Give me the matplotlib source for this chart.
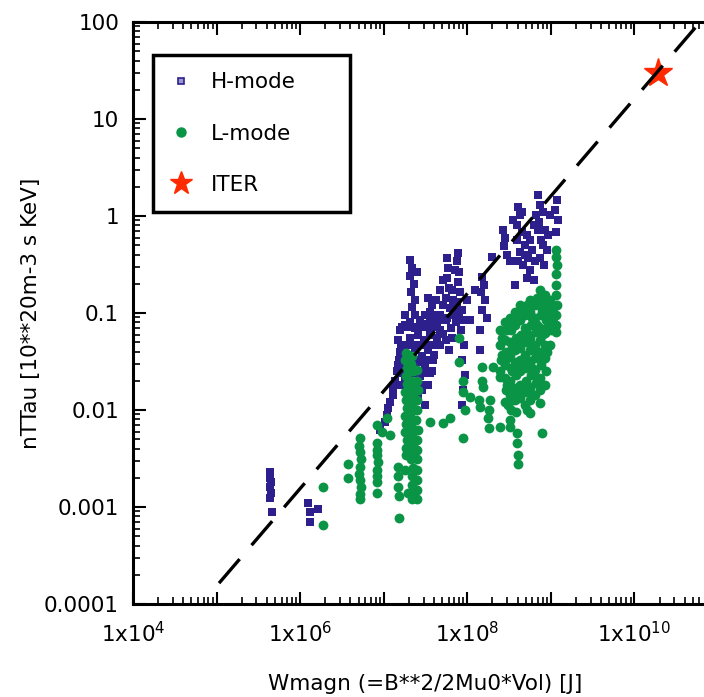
import matplotlib
matplotlib.use('Agg')
import matplotlib.pyplot as plt
from matplotlib.lines import Line2D
from matplotlib.ticker import LogLocator, NullFormatter

plt.rcParams['font.family'] = ['DejaVu Sans']
plt.rcParams['font.size'] = 15.5

# H-mode shots (Wmagn [J], nTTau)
h_w = [4.4e5, 4.4e5, 4.5e5, 4.4e5, 4.5e5, 4.4e5, 4.6e5,
       1.25e6, 1.3e6, 1.64e6, 1.3e6,
       9.1e6, 1.04e7, 1.1e7, 1.13e7, 1.2e7, 1.3e7, 1.3e7, 1.37e7, 1.45e7, 1.49e7,
       1.58e7, 1.81e7, 2.08e7, 2.38e7, 2.73e7, 3.14e7, 3.6e7, 4.1e7, 4.75e7,
       1.49e7, 1.76e7, 2.08e7, 2.59e7, 3.05e7, 3.6e7, 4.3e7, 5.1e7,
       1.58e7, 1.96e7, 2.38e7, 2.9e7, 3.35e7, 4.0e7,
       1.66e7, 2.08e7, 2.59e7, 3.14e7, 3.8e7,
       1.81e7, 2.25e7, 2.73e7, 3.35e7,
       2.08e7, 2.59e7, 2.9e7, 3.14e7,
       1.66e7, 1.91e7, 2.2e7, 2.52e7, 2.9e7, 3.35e7, 3.9e7, 4.4e7,
       1.63e7, 1.86e7, 2.25e7, 2.73e7, 3.3e7, 3.8e7, 4.75e7,
       1.53e7, 1.81e7, 2.2e7, 2.73e7, 3.3e7, 3.9e7,
       1.58e7, 1.96e7, 2.38e7, 2.9e7, 3.6e7,
       1.49e7, 1.86e7, 2.45e7, 3.05e7,
       1.81e7, 2.38e7, 3.14e7, 4.75e7,
       2.08e7, 2.2e7, 2.08e7, 2.3e7, 2.13e7, 2.38e7, 2.2e7, 2.52e7,
       3.4e7, 3.8e7, 4.2e7, 3.6e7, 4.4e7, 3.3e7,
       5.7e7, 5.9e7, 5.7e7, 6.1e7, 5.6e7, 6.25e7, 5.7e7, 6.4e7, 5.6e7, 6.1e7,
       7.8e7, 7.6e7, 8.0e7, 7.8e7, 8.2e7, 7.6e7, 8.0e7, 7.4e7,
       4.75e7, 5.1e7, 6.8e7, 7.2e7, 4.75e7,
       5.1e7, 6.6e7, 7.2e7, 5.5e7, 6.6e7, 7.0e7, 9.8e7, 1.09e8, 1.25e8,
       1.5e8, 1.6e8, 1.47e8, 1.64e8, 1.5e8, 1.7e8, 1.43e8, 1.43e8,
       8.7e7, 8.9e7, 8.5e7, 9.2e7, 8.7e7, 9.5e7, 8.9e7, 8.7e7,
       1.96e8, 2.7e8, 2.85e8, 2.78e8, 2.95e8, 3.2e8,
       4.08e8, 4.3e8, 3.9e8, 4.5e8, 3.97e8, 4.95e8, 4.3e8, 5.4e8, 4.7e8, 5.7e8, 5.2e8, 3.76e8, 6.0e8, 5.2e8, 6.2e8,
       3.5e8, 4.5e8, 5.7e8, 6.5e8, 4.95e8, 8.1e8, 9.9e8, 7.1e8, 4.08e8, 6.2e8,
       7.1e8, 7.5e8, 8.1e8, 7.3e8, 8.6e8, 7.7e8, 8.9e8, 7.5e8, 8.3e8, 9.3e8, 6.7e8,
       1.2e9, 1.13e9, 1.23e9, 1.16e9]
h_ntt = [2.3e-3, 2.0e-3, 1.8e-3, 1.6e-3, 1.4e-3, 1.25e-3, 8.9e-4,
         1.1e-3, 8.9e-4, 9.5e-4, 7.0e-4,
         0.0062, 0.0075, 0.0089, 0.0105, 0.0121, 0.0143, 0.0173, 0.020, 0.025, 0.029,
         0.067, 0.075, 0.081, 0.070, 0.085, 0.077, 0.089, 0.081, 0.085,
         0.053, 0.047, 0.055, 0.059, 0.053, 0.059, 0.055, 0.061,
         0.040, 0.037, 0.042, 0.036, 0.042, 0.037,
         0.029, 0.027, 0.031, 0.027, 0.025,
         0.0214, 0.0194, 0.0224, 0.018,
         0.0153, 0.0133, 0.016, 0.0113,
         0.071, 0.071, 0.071, 0.071, 0.071, 0.071, 0.071, 0.071,
         0.047, 0.047, 0.047, 0.047, 0.047, 0.047, 0.047,
         0.033, 0.033, 0.033, 0.033, 0.033, 0.033,
         0.024, 0.024, 0.024, 0.024, 0.024,
         0.018, 0.018, 0.018, 0.018,
         0.095, 0.095, 0.095, 0.095,
         0.35, 0.29, 0.24, 0.199, 0.165, 0.136, 0.115, 0.265,
         0.143, 0.121, 0.136, 0.102, 0.095, 0.075,
         0.37, 0.29, 0.23, 0.181, 0.143, 0.113, 0.089, 0.070, 0.053, 0.042,
         0.42, 0.34, 0.265, 0.21, 0.165, 0.130, 0.102, 0.081,
         0.173, 0.121, 0.136, 0.095, 0.067,
         0.22, 0.173, 0.28, 0.085, 0.055, 0.107, 0.136, 0.085, 0.173,
         0.235, 0.194, 0.165, 0.136, 0.107, 0.089, 0.067, 0.042,
         0.107, 0.085, 0.067, 0.047, 0.033, 0.023, 0.016, 0.0113,
         0.38, 0.72, 0.59, 0.49, 0.40, 0.34,
         1.24, 1.02, 0.81, 0.68, 0.57, 0.50, 0.43, 0.37, 0.31, 0.28, 0.23, 0.194, 0.45, 0.64, 0.81,
         0.91, 1.10, 0.57, 0.34, 0.40, 0.50, 1.02, 0.72, 0.34, 0.22,
         1.64, 1.30, 1.10, 0.87, 0.72, 0.57, 0.45, 0.37, 0.31, 0.64, 1.02,
         1.46, 1.15, 0.91, 0.68]

# L-mode shots
l_w = [1.89e6, 1.89e6, 3.76e6, 3.76e6,
       5.2e6, 5.1e6, 5.2e6, 5.3e6, 5.2e6, 5.1e6, 5.2e6, 5.3e6, 5.2e6, 5.2e6,
       8.4e6, 8.3e6, 8.4e6, 8.5e6, 8.4e6, 8.3e6, 8.4e6, 8.4e6,
       1.49e7, 1.49e7, 1.49e7, 1.52e7, 1.52e7, 1.96e7, 1.81e7,
       8.4e6, 9.5e6, 1.2e7, 1.1e7,
       1.86e7, 1.8e7, 1.9e7, 1.84e7, 1.88e7, 1.8e7, 1.86e7, 1.9e7, 1.82e7, 1.86e7, 1.8e7, 1.88e7, 1.84e7, 1.86e7,
       2.2e7, 2.15e7, 2.25e7, 2.2e7, 2.17e7, 2.23e7, 2.2e7, 2.15e7, 2.25e7, 2.2e7, 2.18e7, 2.22e7, 2.2e7, 2.15e7,
       2.25e7, 2.2e7, 2.18e7, 2.22e7, 2.2e7,
       2.52e7, 2.48e7, 2.55e7, 2.5e7, 2.52e7, 2.46e7, 2.55e7, 2.5e7, 2.52e7, 2.48e7, 2.5e7, 2.52e7, 2.5e7, 2.52e7,
       3.6e7, 5.1e7, 6.25e7, 8.9e7, 8.0e7, 8.0e7, 8.9e7, 8.9e7, 9.5e7, 1.09e8,
       1.5e8, 2.05e8, 2.48e8, 1.5e8, 1.55e8, 1.37e8, 1.89e8, 1.43e8, 1.8e8, 1.76e8, 1.8e8,
       2.48e8, 3.1e8, 3.1e8, 3.27e8, 3.27e8, 3.9e8, 3.9e8, 4.08e8, 4.08e8, 7.9e8,
       2.48e8, 2.45e8, 2.5e8, 2.48e8,
       2.85e8, 2.8e8, 2.9e8, 2.85e8, 2.82e8, 2.88e8, 2.85e8,
       3.27e8, 3.3e8, 3.22e8, 3.27e8, 3.32e8, 3.25e8, 3.27e8, 3.3e8,
       3.76e8, 3.7e8, 3.8e8, 3.76e8, 3.72e8, 3.8e8, 3.76e8, 3.7e8, 3.78e8,
       4.3e8, 4.25e8, 4.35e8, 4.3e8, 4.28e8, 4.32e8, 4.3e8, 4.25e8,
       4.95e8, 4.9e8, 5.0e8, 4.95e8, 4.9e8, 5.0e8, 4.95e8, 4.92e8,
       5.7e8, 5.65e8, 5.75e8, 5.7e8, 5.6e8, 5.7e8, 5.75e8, 5.7e8, 5.65e8, 5.7e8,
       6.5e8, 6.45e8, 6.55e8, 6.5e8, 6.4e8, 6.5e8, 6.55e8, 6.5e8,
       7.5e8, 7.45e8, 7.55e8, 7.5e8, 7.4e8, 7.5e8, 7.55e8, 7.5e8, 7.45e8, 7.5e8,
       8.6e8, 8.55e8, 8.65e8, 8.6e8, 8.5e8, 8.6e8, 8.65e8, 8.6e8,
       9.9e8, 9.8e8, 1.0e9, 9.9e8,
       1.16e9, 1.15e9, 1.17e9, 1.16e9, 1.15e9, 1.16e9, 1.17e9, 1.16e9, 1.15e9, 1.16e9,
       2.6e8, 2.6e8, 3.0e8, 3.0e8, 3.0e8,
       3.46e8, 3.46e8, 3.46e8, 3.46e8, 3.98e8, 3.98e8, 3.98e8, 3.98e8,
       4.55e8, 4.55e8, 4.55e8, 4.55e8, 5.2e8, 5.2e8, 5.2e8, 5.2e8, 5.2e8,
       6.0e8, 6.0e8, 6.0e8, 6.0e8, 6.9e8, 6.9e8, 6.9e8, 6.9e8,
       7.9e8, 7.9e8, 7.9e8, 7.9e8, 9.1e8, 9.1e8, 9.1e8, 1.05e9, 1.05e9]
l_ntt = [0.0016, 0.00065, 0.0028, 0.0020,
         0.0051, 0.0043, 0.0037, 0.0031, 0.0026, 0.0022, 0.0019, 0.0016, 0.00135, 0.0012,
         0.0046, 0.0039, 0.0034, 0.0029, 0.0024, 0.0021, 0.0018, 0.0014,
         0.0026, 0.0021, 0.0016, 0.0013, 0.00077, 0.0014, 0.0024,
         0.0070, 0.0059, 0.0055, 0.0083,
         0.039, 0.033, 0.027, 0.0224, 0.0185, 0.0153, 0.0127, 0.0105, 0.0087, 0.0072, 0.0059, 0.0049, 0.0041, 0.0034,
         0.036, 0.030, 0.025, 0.020, 0.0169, 0.0139, 0.0115, 0.0095, 0.0079, 0.0065, 0.0054, 0.0045, 0.0037, 0.0031,
         0.0025, 0.0021, 0.0017, 0.0014, 0.0012,
         0.026, 0.020, 0.016, 0.0127, 0.010, 0.0079, 0.0062, 0.0049, 0.0039, 0.0031, 0.0024, 0.0019, 0.0015, 0.0012,
         0.0075, 0.0073, 0.0083, 0.0051, 0.055, 0.031, 0.020, 0.0153, 0.010, 0.0136,
         0.028, 0.028, 0.0219, 0.020, 0.0173, 0.0127, 0.0127, 0.0107, 0.010, 0.0083, 0.0065,
         0.0067, 0.016, 0.0113, 0.0079, 0.0067, 0.0058, 0.0046, 0.0034, 0.0028, 0.0058,
         0.067, 0.047, 0.033, 0.025,
         0.081, 0.053, 0.040, 0.029, 0.0214, 0.016, 0.0121,
         0.089, 0.067, 0.050, 0.037, 0.027, 0.020, 0.0143, 0.010,
         0.102, 0.075, 0.055, 0.042, 0.031, 0.023, 0.0169, 0.0127, 0.0095,
         0.121, 0.085, 0.059, 0.044, 0.033, 0.025, 0.018, 0.0133,
         0.095, 0.070, 0.050, 0.037, 0.027, 0.020, 0.0153, 0.0113,
         0.136, 0.102, 0.075, 0.055, 0.042, 0.031, 0.023, 0.0169, 0.0127, 0.0093,
         0.121, 0.089, 0.064, 0.047, 0.034, 0.026, 0.019, 0.0143,
         0.173, 0.130, 0.095, 0.070, 0.053, 0.040, 0.029, 0.0214, 0.016, 0.0118,
         0.153, 0.113, 0.085, 0.062, 0.047, 0.034, 0.025, 0.018,
         0.136, 0.095, 0.067, 0.047,
         0.45, 0.38, 0.31, 0.25, 0.194, 0.153, 0.121, 0.095, 0.075, 0.064,
         0.055, 0.037, 0.067, 0.034, 0.018,
         0.075, 0.044, 0.025, 0.0127, 0.089, 0.049, 0.027, 0.0143,
         0.102, 0.053, 0.029, 0.016, 0.121, 0.062, 0.033, 0.018, 0.010,
         0.089, 0.047, 0.027, 0.0143, 0.143, 0.075, 0.040, 0.0214,
         0.107, 0.059, 0.033, 0.018, 0.130, 0.070, 0.040, 0.113, 0.081]

iter_w = [1.9e10]
iter_ntt = [30.0]

# scaling line
fit_w = [1.07e5, 1e11]
fit_ntt = [1.64e-4, 164.0]

x_ticks = [1e4, 1e5, 1e6, 1e7, 1e8, 1e9, 1e10, 1e11]
x_labels = [r'1x10$^{4}$', '', r'1x10$^{6}$', '', r'1x10$^{8}$', '', r'1x10$^{10}$', '']
y_ticks = [1e-4, 1e-3, 1e-2, 1e-1, 1, 10, 100]
y_labels = ['0.0001', '0.001', '0.01', '0.1', '1', '10', '100']

h_col = '#2d1f8c'
l_col = '#0a9446'
iter_col = '#ff2a00'

fig = plt.figure(figsize=(7.04, 6.97), dpi=100)
ax = fig.add_axes([133/704, 93/697, 585/704, 582/697])
ax.set_xscale('log')
ax.set_yscale('log')

ax.scatter(h_w, h_ntt, marker='s', s=26, color=h_col, linewidths=0, zorder=2)
ax.scatter(l_w, l_ntt, marker='o', s=50, color=l_col, linewidths=0, zorder=3)
ax.plot(iter_w, iter_ntt, linestyle='none', marker='*', ms=21, color=iter_col, zorder=4)
ax.plot(fit_w, fit_ntt, color='black', lw=2.4, dashes=[9.5, 5.5], zorder=5)

ax.set_xlim(1e4, 1e11)
ax.set_ylim(1e-4, 100)
ax.set_xticks(x_ticks, labels=x_labels)
ax.set_yticks(y_ticks, labels=y_labels)
ax.xaxis.set_minor_locator(LogLocator(base=10, subs=range(2, 10), numticks=20))
ax.yaxis.set_minor_locator(LogLocator(base=10, subs=range(2, 10), numticks=20))
ax.xaxis.set_minor_formatter(NullFormatter())
ax.yaxis.set_minor_formatter(NullFormatter())
ax.tick_params(which='both', direction='in', top=True, right=True)
ax.tick_params(which='major', length=9, width=1.5, pad=10)
ax.tick_params(which='minor', length=5, width=1.2)
ax.tick_params(axis='x', which='major', pad=12)
for sp in ax.spines.values():
    sp.set_linewidth(2.2)

ax.set_xlabel('Wmagn (=B**2/2Mu0*Vol) [J]', labelpad=20)
ax.set_ylabel('nTTau [10**20m-3 s KeV]', labelpad=2)

handles = [Line2D([], [], linestyle='none', marker='s', ms=4.5, mfc='#9a98d0', mec=h_col, mew=1.2),
           Line2D([], [], linestyle='none', marker='o', ms=6.5, color=l_col),
           Line2D([], [], linestyle='none', marker='*', ms=17, color=iter_col)]
leg = ax.legend(handles, ['H-mode', 'L-mode', 'ITER'], loc='upper left',
                bbox_to_anchor=(0.034, 0.677, 0.337, 0.266), mode='expand',
                borderaxespad=0, borderpad=0.8, labelspacing=1.45,
                handlelength=1.0, handletextpad=0.9, fancybox=False,
                framealpha=1, edgecolor='black')
leg.get_frame().set_linewidth(2.5)

fig.savefig('out.png', dpi=100)
